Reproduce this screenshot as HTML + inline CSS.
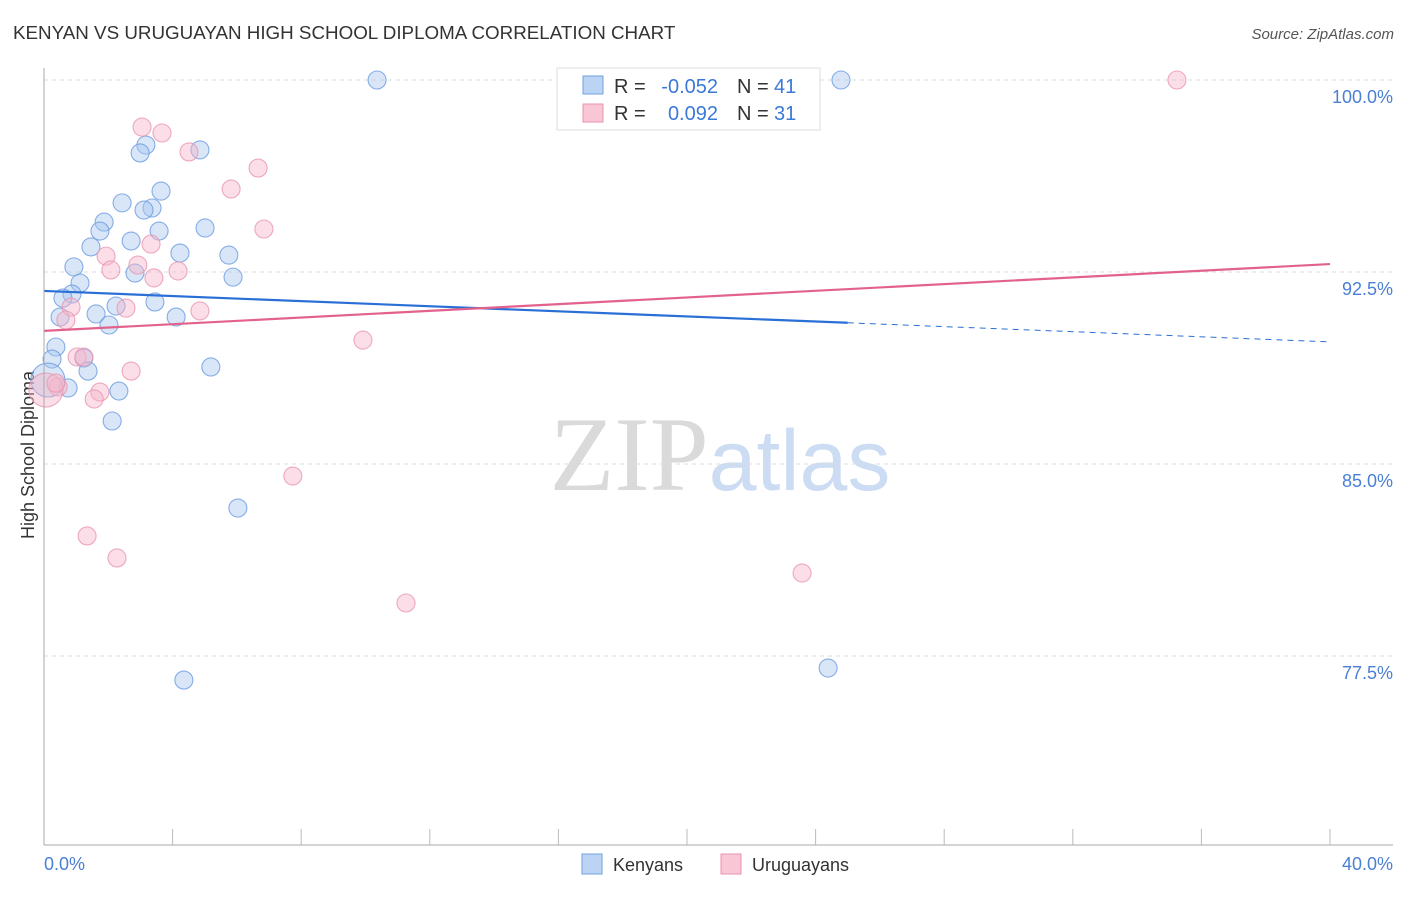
<!DOCTYPE html>
<html><head><meta charset="utf-8"><style>
body{margin:0;background:#fff;font-family:"Liberation Sans",sans-serif}
</style></head><body>
<svg id="chart" width="1406" height="892" xmlns="http://www.w3.org/2000/svg" font-family="Liberation Sans, sans-serif">
<text x="13" y="39" font-size="18.8" fill="#333">KENYAN VS URUGUAYAN HIGH SCHOOL DIPLOMA CORRELATION CHART</text>
<text x="1394" y="39" font-size="15" fill="#555" text-anchor="end" font-style="italic">Source: ZipAtlas.com</text>
<text transform="translate(34,455) rotate(-90)" font-size="18" fill="#333" text-anchor="middle">High School Diploma</text>
<text x="720" y="490" font-size="106" text-anchor="middle"><tspan fill="#dadada" font-family="Liberation Serif, serif">ZIP</tspan><tspan fill="#cbdcf3" font-size="86">atlas</tspan></text>
<g id="grid"></g><g id="ticks"></g><g id="pts"></g><g id="lines"></g>
<line x1="44" y1="68" x2="44" y2="845" stroke="#aaa"/>
<line x1="44" y1="845" x2="1393" y2="845" stroke="#aaa"/>
<text x="44" y="870" font-size="18" fill="#4a7fd4">0.0%</text>
<text x="1393" y="870" font-size="18" fill="#4a7fd4" text-anchor="end">40.0%</text>
<g font-size="20">
<rect x="557" y="68" width="263" height="62" fill="#fff" stroke="#ddd"/>
<rect x="583" y="76" width="20" height="18" fill="#bcd4f4" stroke="#6f9fe0"/>
<rect x="583" y="104" width="20" height="18" fill="#f8c6d4" stroke="#e891ab"/>
<text x="614" y="93" fill="#333">R =</text>
<text x="718" y="93" fill="#3b78d8" text-anchor="end">-0.052</text>
<text x="737" y="93" fill="#333">N =</text>
<text x="774" y="93" fill="#3b78d8">41</text>
<text x="614" y="120" fill="#333">R =</text>
<text x="718" y="120" fill="#3b78d8" text-anchor="end">0.092</text>
<text x="737" y="120" fill="#333">N =</text>
<text x="774" y="120" fill="#3b78d8">31</text>
</g>
<g>
<rect x="582" y="854" width="20" height="20" fill="#bcd4f4" stroke="#6f9fe0"/>
<text x="613" y="871" font-size="18" fill="#333">Kenyans</text>
<rect x="721" y="854" width="20" height="20" fill="#f8c6d4" stroke="#e891ab"/>
<text x="752" y="871" font-size="18" fill="#333">Uruguayans</text>
</g>
</svg>
<script>
const yTicks=[100,92.5,85,77.5];
const yTickLabels=["100.0%","92.5%","85.0%","77.5%"];
const xTicks=[0,4,8,12,16,20,24,28,32,36,40];
const kenX=[10.36,24.79,4.85,3.17,2.99,3.64,2.43,3.36,3.11,1.87,1.74,3.58,5.01,2.71,1.46,4.23,5.75,0.93,2.83,5.88,1.12,0.87,0.59,3.45,2.24,1.62,4.11,0.50,2.02,0.37,0.25,1.24,1.37,5.19,0.75,2.33,0.12,2.12,6.03,24.39,4.35];
const kenY=[100,100,97.27,97.46,97.15,95.66,95.20,95.0,94.92,94.45,94.10,94.10,94.22,93.71,93.48,93.24,93.16,92.70,92.46,92.30,92.07,91.64,91.48,91.33,91.17,90.86,90.74,90.74,90.43,89.57,89.10,89.14,88.63,88.79,87.97,87.85,88.28,86.68,83.28,77.03,76.56];
const kenBig=[36];
const uruX=[35.24,3.05,3.67,4.51,6.66,5.82,6.84,3.33,1.93,2.08,2.92,3.42,4.17,4.85,2.55,0.84,0.68,1.03,1.24,2.71,9.92,1.74,1.56,0.44,0.06,7.74,1.34,2.27,11.26,23.58,0.37];
const uruY=[100,98.16,97.93,97.19,96.56,95.74,94.18,93.59,93.12,92.58,92.77,92.27,92.54,90.98,91.09,91.13,90.62,89.18,89.18,88.63,89.84,87.81,87.54,88.01,87.89,84.53,82.19,81.33,79.57,80.74,88.16];
const uruBig=[24];
const kenTrend=[91.76,89.77];
const uruTrend=[90.20,92.81];
const kenSolidEnd=25;
const X=v=>44+v/40*1286, Y=v=>80+(100-v)/7.5*192;
const NS="http://www.w3.org/2000/svg";
function mk(t,a,p){const e=document.createElementNS(NS,t);for(const k in a)e.setAttribute(k,a[k]);document.getElementById(p).appendChild(e);return e;}
yTicks.forEach((t,i)=>{
 const l=mk('line',{x1:44,x2:1393,y1:Y(t),y2:Y(t),stroke:'#ddd','stroke-dasharray':'4,4'},'grid');
 
 
 const tx=mk('text',{x:1393,y:Y(t)+23,'font-size':18,fill:'#4a7fd4','text-anchor':'end'},'grid');
 tx.textContent=yTickLabels[i];
 
 
});
xTicks.forEach(t=>{
 const l=mk('line',{x1:X(t),x2:X(t),y1:829,y2:845,stroke:'#bbb'},'ticks');
 
 
});
function pts(xs,ys,big,fill,stroke,name){
 xs.forEach((x,i)=>{
  const c=mk('circle',{cx:X(x),cy:Y(ys[i]),r:big.includes(i)?17:9,fill:fill,'fill-opacity':0.45,stroke:stroke,'stroke-opacity':0.8,'stroke-width':1.1},'pts');
  
  
 });
}
pts(kenX,kenY,kenBig,'#a9c8f0','#6b9be0','kenyan-point');
pts(uruX,uruY,uruBig,'#f6b6c9','#e996b0','uruguayan-point');
const ky=x=>kenTrend[0]+(kenTrend[1]-kenTrend[0])*x/40;
let l=mk('line',{x1:X(0),y1:Y(ky(0)),x2:X(kenSolidEnd),y2:Y(ky(kenSolidEnd)),stroke:'#2a6fd6','stroke-width':2.2},'lines');


l=mk('line',{x1:X(kenSolidEnd),y1:Y(ky(kenSolidEnd)),x2:X(40),y2:Y(ky(40)),stroke:'#2a6fd6','stroke-width':1,'stroke-dasharray':'6,5'},'lines');


l=mk('line',{x1:X(0),y1:Y(uruTrend[0]),x2:X(40),y2:Y(uruTrend[1]),stroke:'#e2628c','stroke-width':2.2},'lines');


</script>
</body></html>
